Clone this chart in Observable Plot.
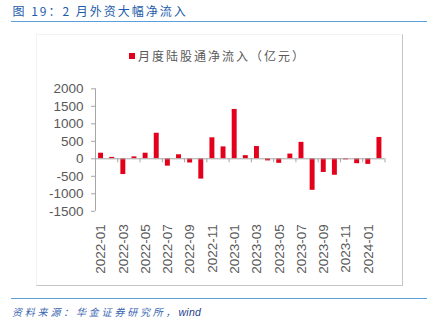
<!DOCTYPE html>
<html>
<head>
<meta charset="utf-8">
<script src="https://cdn.jsdelivr.net/npm/d3@7"></script>
<script src="https://cdn.jsdelivr.net/npm/@observablehq/plot@0.6"></script>
<style>
  html, body { margin: 0; padding: 0; background: #fff; }
  #page { position: relative; width: 434px; height: 328px; overflow: hidden; background: #fff; }
  .abs { position: absolute; }
  #title { left: 12.5px; top: 4px; font: 12px/14px "Noto Sans CJK SC", "Liberation Sans", sans-serif; letter-spacing: 2px; color: #1d5bab; white-space: nowrap; }
  .hline { left: 11px; width: 416px; height: 0; border-top: 1.5px solid #5aa0da; }
  #frame { left: 36px; top: 34px; width: 365px; height: 250px; border-top: 1px solid #f2f2f2; border-left: 1px solid #f2f2f2; border-right: 1px solid #c4c4c4; border-bottom: 1px solid #c4c4c4; }
  #legend { left: 129px; top: 49px; font: 12px/14px "Noto Sans CJK SC", sans-serif; letter-spacing: 2px; color: #595959; white-space: nowrap; display: flex; align-items: center; }
  #legend .sw { display: inline-block; width: 6px; height: 6px; background: #e3001b; margin-right: 3px; }
  #caption { left: 12px; top: 305px; font: italic 10px/14px "Noto Sans CJK SC", sans-serif; letter-spacing: 2.8px; color: #3a66b3; white-space: nowrap; }
  #caption .w { font-family: "Liberation Sans", Arial, sans-serif; color: #1c3c8c; letter-spacing: 0.3px; font-size: 10.5px; }
  svg { position: absolute; left: 0; top: 0; overflow: visible; }
</style>
</head>
<body>
<div id="page">
  <div id="frame" class="abs"></div>
  <div id="title" class="abs">图 19：2 月外资大幅净流入</div>
  <div class="abs hline" style="top:20.5px"></div>
  <div id="legend" class="abs"><span class="sw"></span><span>月度陆股通净流入（亿元）</span></div>
  <div class="abs hline" style="top:297.5px"></div>
  <div id="caption" class="abs">资料来源：华金证券研究所，<span class="w">wind</span></div>
</div>
<script>
const months = [
  "2022-01","2022-02","2022-03","2022-04","2022-05","2022-06",
  "2022-07","2022-08","2022-09","2022-10","2022-11","2022-12",
  "2023-01","2023-02","2023-03","2023-04","2023-05","2023-06",
  "2023-07","2023-08","2023-09","2023-10","2023-11","2023-12",
  "2024-01","2024-02"
];
const netInflow = [
  160, 40, -450, 55, 160, 730,
  -210, 115, -120, -580, 600, 340,
  1410, 90, 350, -60, -130, 135,
  470, -900, -390, -470, -30, -140,
  -160, 610
];
const yTicks = [-1500, -1000, -500, 0, 500, 1000, 1500, 2000];
const yDomain = [-1500, 2000];

const data = months.map((m, i) => ({i, month: m, value: netInflow[i]}));
// category boundaries that carry a tick on the zero line (every two months)
const tickBounds = d3.range(0, months.length + 1, 2);
// label positions: centers of every other month
const labelPos = d3.range(0, months.length, 2).map(i => i + 0.5);

const axisGrey = "#a6a6a6";
const textGrey = "#595959";

const chart = Plot.plot({
  width: 434,
  height: 328,
  marginLeft: 95,
  marginRight: 49.5,
  marginTop: 88.3,
  marginBottom: 117.2,
  x: {type: "linear", domain: [0, months.length], label: null},
  y: {type: "linear", domain: yDomain, label: null},
  style: {background: "transparent", fontFamily: "'Liberation Sans', Arial, sans-serif", fontSize: "13.5px", color: textGrey},
  marks: [
    Plot.rectY(data, {x1: "i", x2: d => d.i + 1, y: "value", fill: "#e3001b", insetLeft: 3.1, insetRight: 3.1}),
    Plot.ruleY([0], {stroke: axisGrey}),
    Plot.ruleX([0], {stroke: axisGrey}),
    Plot.ruleX(tickBounds, {x: d => d, y1: 0, y2: 0, insetBottom: -4, stroke: axisGrey}),
    Plot.axisY({ticks: yTicks, tickSize: 4, tickPadding: 8, stroke: axisGrey, fill: textGrey, tickFormat: d => String(d), label: null}),
    Plot.axisX({ticks: labelPos, tickFormat: v => months[Math.floor(v)], tickRotate: -90, tickSize: 0, tickPadding: 13, fill: textGrey, label: null})
  ]
});
document.getElementById("page").appendChild(chart);
</script>
</body>
</html>
